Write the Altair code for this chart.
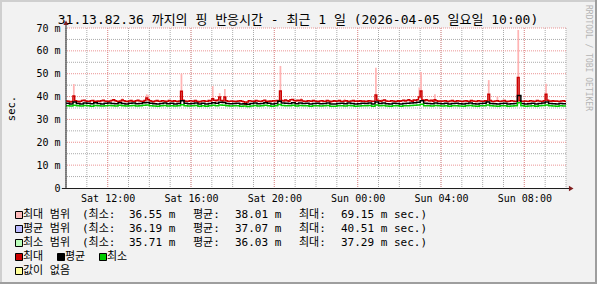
import json
import altair as alt
import pandas as pd

# ---------------- data ----------------
title_text = "31.13.82.36 까지의 핑 반응시간 - 최근 1 일 (2026-04-05 일요일 10:00)"
watermark_text = "RRDTOOL / TOBI OETIKER"
y_title = "sec."

x_tick_hours = [2, 6, 10, 14, 18, 22]
x_tick_labels = ["Sat 12:00", "Sat 16:00", "Sat 20:00", "Sun 00:00", "Sun 04:00", "Sun 08:00"]
y_tick_values = [0, 10, 20, 30, 40, 50, 60, 70]
y_tick_labels = ["0", "10 m", "20 m", "30 m", "40 m", "50 m", "60 m", "70 m"]

max_step_minutes = 5
max_line = [
    38.1, 38.0, 37.6, 37.8, 40.3, 38.2, 37.9, 37.7, 38.0, 38.3, 38.4, 38.1, 37.9, 38.0, 38.2, 38.3, 37.8, 37.9, 38.1, 38.0, 38.2, 38.4, 38.1, 38.0,
    37.8, 38.1, 38.3, 38.6, 38.2, 38.0, 37.9, 38.1, 38.5, 38.2, 38.0, 37.8, 38.1, 38.3, 38.0, 37.9, 38.2, 38.4, 38.1, 37.9, 38.0, 38.3, 39.4, 38.6,
    38.2, 38.0, 37.7, 38.1, 38.3, 38.0, 37.9, 38.2, 38.1, 37.8, 38.0, 38.3, 38.1, 37.9, 38.2, 38.0, 37.8, 38.1, 42.3, 38.4, 38.1, 38.0, 37.9, 38.2,
    38.1, 37.9, 38.3, 38.0, 37.6, 37.8, 38.1, 38.2, 38.0, 37.9, 38.3, 38.1, 39.0, 38.4, 38.2, 38.5, 39.8, 38.3, 38.1, 39.8, 38.2, 38.0, 37.9, 38.1,
    38.0, 37.8, 37.9, 38.1, 38.2, 38.0, 37.7, 36.6, 37.6, 38.2, 38.1, 37.9, 38.0, 38.3, 38.1, 37.9, 38.0, 38.2, 38.4, 38.0, 37.8, 38.1, 38.0, 38.2,
    38.1, 38.3, 38.2, 42.4, 38.3, 38.1, 38.5, 38.2, 38.0, 38.6, 38.7, 38.3, 38.1, 38.4, 38.2, 38.5, 38.1, 38.0, 37.9, 38.2, 38.1, 38.0, 38.3, 38.1,
    38.0, 37.8, 38.1, 38.2, 38.0, 37.9, 38.3, 38.1, 37.7, 37.9, 38.2, 38.0, 38.1, 38.3, 38.0, 37.8, 38.1, 38.2, 38.0, 37.9, 38.1, 38.3, 38.0, 38.1,
    37.9, 38.2, 38.0, 38.1, 37.8, 38.0, 38.2, 38.1, 37.9, 38.0, 40.7, 38.4, 38.2, 38.0, 38.3, 38.5, 38.1, 37.9, 38.0, 38.2, 38.1, 37.8, 38.0, 38.2,
    38.0, 38.2, 38.4, 38.1, 38.3, 38.6, 38.2, 38.0, 38.5, 38.3, 38.6, 39.8, 42.4, 38.5, 38.2, 38.6, 38.3, 38.1, 38.4, 38.0, 38.6, 38.2, 38.0, 38.1,
    37.9, 38.1, 38.2, 38.0, 37.8, 38.1, 38.3, 38.0, 37.9, 38.2, 38.1, 38.0, 37.8, 38.1, 38.2, 38.0, 37.9, 38.3, 38.1, 38.0, 37.8, 38.2, 38.1, 37.9,
    38.0, 38.2, 38.1, 41.0, 38.3, 38.0, 37.8, 38.1, 38.2, 38.0, 37.9, 38.1, 38.3, 38.0, 37.8, 38.0, 38.2, 38.1, 37.9, 38.0, 48.3, 38.2, 38.0, 37.9,
    38.1, 38.0, 37.8, 38.2, 38.1, 37.9, 38.0, 38.3, 38.1, 38.0, 37.9, 38.2, 41.0, 38.4, 38.1, 38.0, 38.2, 37.9, 38.1, 38.0, 37.8, 38.1, 38.2, 38.0,
]

avg_min_step_minutes = 10
avg_line = [
    37.1, 36.8, 37.6, 37.0, 36.7, 37.2, 37.1, 36.9, 37.3, 37.0, 36.8, 37.1,
    37.2, 37.0, 36.9, 37.3, 37.0, 36.8, 37.1, 37.2, 36.9, 37.0, 37.3, 37.4,
    37.1, 36.9, 36.7, 37.0, 37.2, 36.9, 37.1, 36.8, 37.0, 38.2, 37.1, 36.9,
    37.0, 37.2, 36.8, 37.1, 36.7, 37.0, 37.3, 37.1, 37.5, 37.4, 37.0, 36.9,
    37.0, 37.1, 36.8, 36.9, 36.6, 37.0, 37.2, 36.9, 37.0, 37.3, 37.1, 36.8,
    37.0, 38.0, 37.2, 37.1, 37.0, 37.3, 36.9, 37.2, 37.0, 37.1, 36.8, 37.0,
    37.1, 36.9, 37.0, 37.2, 36.8, 36.7, 37.0, 37.1, 36.9, 37.2, 37.0, 36.8,
    36.9, 37.1, 37.0, 37.2, 36.8, 37.6, 37.0, 37.2, 36.9, 36.8, 37.1, 37.0,
    36.8, 37.0, 37.1, 37.2, 37.3, 37.5, 38.2, 37.1, 37.0, 36.9, 37.2, 37.0,
    36.9, 37.1, 36.8, 37.0, 37.1, 36.9, 36.7, 37.0, 37.2, 36.9, 36.8, 37.0,
    37.1, 37.6, 37.0, 36.9, 36.8, 37.0, 37.1, 36.8, 36.9, 37.0, 40.5, 37.0,
    36.8, 36.9, 37.1, 36.8, 37.0, 37.2, 37.6, 37.0, 36.9, 36.8, 37.0, 36.9,
]
min_line = [
    36.0, 35.9, 36.2, 36.0, 35.9, 36.1, 36.0, 35.8, 36.1, 36.0, 35.9, 36.0,
    36.1, 36.0, 35.9, 36.2, 36.0, 35.9, 36.0, 36.1, 35.9, 36.0, 36.2, 36.3,
    36.0, 35.9, 35.8, 36.0, 36.1, 35.9, 36.0, 35.9, 36.0, 36.4, 36.0, 35.9,
    36.0, 36.1, 35.8, 36.0, 35.8, 36.0, 36.2, 36.0, 36.3, 36.2, 36.0, 35.9,
    36.0, 36.0, 35.8, 35.9, 35.7, 35.9, 36.1, 35.9, 36.0, 36.2, 36.0, 35.8,
    36.0, 36.5, 36.1, 36.0, 36.0, 36.2, 35.9, 36.1, 36.0, 36.0, 35.8, 36.0,
    36.0, 35.9, 36.0, 36.1, 35.8, 35.8, 36.0, 36.0, 35.9, 36.1, 36.0, 35.8,
    35.9, 36.0, 36.0, 36.1, 35.8, 36.3, 36.0, 36.1, 35.9, 35.8, 36.0, 36.0,
    35.8, 36.0, 36.0, 36.1, 36.2, 36.3, 36.6, 36.0, 36.0, 35.9, 36.1, 36.0,
    35.9, 36.0, 35.8, 36.0, 36.0, 35.9, 35.8, 36.0, 36.1, 35.9, 35.8, 36.0,
    36.0, 36.3, 36.0, 35.9, 35.8, 36.0, 36.0, 35.8, 35.9, 36.0, 37.3, 36.0,
    35.8, 35.9, 36.0, 35.8, 36.0, 36.1, 36.3, 36.0, 35.9, 35.8, 36.0, 35.9,
]

# upper edge of the "max range" band (5-minute slots where it rises above the max line)
peak_index = [4, 32, 46, 47, 66, 84, 88, 91, 123, 135, 160, 178, 203, 204, 212, 243, 248, 260, 276]
peak_top = [45.5, 39.2, 41.0, 40.6, 50.0, 44.6, 41.5, 43.3, 53.4, 39.3, 39.0, 52.6, 44.0, 50.7, 41.0, 47.2, 40.0, 69.15, 45.6]

range_names = ["최대 범위", "평균 범위", "최소 범위"]
range_min = [36.55, 36.19, 35.71]
range_avg = [38.01, 37.07, 36.03]
range_max = [69.15, 40.51, 37.29]
stat_labels = ["(최소:", "평균:", "최대:"]
line_names = ["최대", "평균", "최소"]
nodata_name = "값이 없음"

# ---------------- styles / layout ----------------
MONO = "DejaVu Sans Mono, Noto Sans CJK KR"
W, H = 500, 160
PL, PT, PR, PB = 66, 28, 31, 96
X_DOMAIN = [0, 24]
Y_DOMAIN = [0, 70]
BG = "#F2F2F2"
C_GRID = "#ABABAB"
C_MGRID = "#EB9595"
C_ARROW = "#801F1F"
C_AXIS = "#1F1F1F"
C_PEAK = "#FFB4B4"
C_MAX, C_AVG, C_MIN = "#CC0000", "#000000", "#00CC00"
RANGE_COLORS = ["#FFBBBB", "#BBBBFF", "#BBFFBB"]
LINE_COLORS = [C_MAX, C_AVG, C_MIN]
NODATA_COLOR = "#FFFF99"

LEG_ROW_Y = [215, 229, 243, 257, 271]
LEG_BOX_X = 15
LEG_NAME_X = 23
LEG_COL_X = [82, 129, 193, 235, 299, 341]
LEG_LINE_BOX_X = [15, 57, 99]

# page pixel -> data units (inverse of the linear scales), used to place the legend
def px_x(px):
    return X_DOMAIN[0] + (px - PL) / W * (X_DOMAIN[1] - X_DOMAIN[0])

def px_y(py):
    return Y_DOMAIN[1] - (py - PT) / H * (Y_DOMAIN[1] - Y_DOMAIN[0])

xscale = alt.Scale(domain=X_DOMAIN, nice=False, zero=False)
yscale = alt.Scale(domain=Y_DOMAIN, nice=False, zero=False)

x_label_expr = "{}[indexof({}, datum.value)]".format(json.dumps(x_tick_labels), json.dumps(x_tick_hours))
y_label_expr = "{}[indexof({}, datum.value)]".format(json.dumps(y_tick_labels), json.dumps(y_tick_values))

xaxis = alt.Axis(values=x_tick_hours, labelExpr=x_label_expr, title=" ", domain=False, ticks=False,
                 grid=False, labelPadding=5, labelFont=MONO, labelFontSize=10, labelColor="#000",
                 labelOverlap=False, labelFlush=False)
yaxis = alt.Axis(values=y_tick_values, labelExpr=y_label_expr, title=y_title, domain=False, ticks=False,
                 grid=False, labelPadding=6, labelFont=MONO, labelFontSize=10, labelColor="#000",
                 titleFont=MONO, titleFontSize=10.5, titleFontWeight="normal", titleColor="#000",
                 titleX=-55, titleY=80, titleAlign="center", titleBaseline="middle")

# ---------------- tables (every table uses columns h / v, plus h2 / v2) ----------------
def series_df(vals, step):
    return pd.DataFrame({
        "h": [i * step / 60 for i in range(len(vals) + 1)],
        "v": list(vals) + [vals[-1]],
    })

df_max = series_df(max_line, max_step_minutes)
df_avg = series_df(avg_line, avg_min_step_minutes)
df_min = series_df(min_line, avg_min_step_minutes)
df_peak = pd.DataFrame({
    "h": [i * max_step_minutes / 60 for i in peak_index],
    "h2": [(i + 1) * max_step_minutes / 60 for i in peak_index],
    "v": [max_line[i] for i in peak_index],
    "v2": peak_top,
})

df_gx_minor = pd.DataFrame({"h": list(range(0, 25))})
df_gx_major = pd.DataFrame({"h": x_tick_hours})
df_gy_minor = pd.DataFrame({"v": list(range(5, 70, 10))})
df_gy_major = pd.DataFrame({"v": y_tick_values[1:]})

txt_rows, box_rows = [], []

def add_box(bx, cy, col):
    box_rows.append({"h": px_x(bx + 0.5), "h2": px_x(bx + 7.5),
                     "v": px_y(cy - 3.5), "v2": px_y(cy + 3.5), "c": col})

for i, name in enumerate(range_names):
    cy = LEG_ROW_Y[i]
    add_box(LEG_BOX_X, cy, RANGE_COLORS[i])
    segs = [name, stat_labels[0], f"{range_min[i]:.2f} m", stat_labels[1], f"{range_avg[i]:.2f} m",
            stat_labels[2], f"{range_max[i]:.2f} m sec.)"]
    for sx, s in zip([LEG_NAME_X] + LEG_COL_X, segs):
        txt_rows.append({"h": px_x(sx), "v": px_y(cy), "t": s})
cy = LEG_ROW_Y[3]
for bx, name, col in zip(LEG_LINE_BOX_X, line_names, LINE_COLORS):
    add_box(bx, cy, col)
    txt_rows.append({"h": px_x(bx + 8), "v": px_y(cy), "t": name})
cy = LEG_ROW_Y[4]
add_box(LEG_BOX_X, cy, NODATA_COLOR)
txt_rows.append({"h": px_x(LEG_NAME_X), "v": px_y(cy), "t": nodata_name})
df_txt = pd.DataFrame(txt_rows)
df_box = pd.DataFrame(box_rows)
df_txt_extra = pd.DataFrame({
    "h": [px_x(298), px_x(588)],
    "v": [px_y(24), px_y(5)],
})

df_yaxis = pd.DataFrame({"h": [0], "v": [0], "v2": [71.5]})
df_xaxis = pd.DataFrame({"h": [-0.2], "h2": [24.2], "v": [0]})
df_up = pd.DataFrame({"h": [0], "v": [72.3]})
df_right = pd.DataFrame({"h": [24.25], "v": [0]})
one = pd.DataFrame({"a": [0]})

# ---------------- layers ----------------
XE = alt.X("h:Q", scale=xscale, axis=xaxis)
YE = alt.Y("v:Q", scale=yscale, axis=yaxis)

dash = [1, 1]
gx_minor = alt.Chart(df_gx_minor).mark_rule(color=C_GRID, strokeDash=dash, strokeWidth=1).encode(x=XE)
gx_major = alt.Chart(df_gx_major).mark_rule(color=C_MGRID, strokeDash=dash, strokeWidth=1).encode(x=XE)
gy_minor = alt.Chart(df_gy_minor).mark_rule(color=C_GRID, strokeDash=dash, strokeWidth=1).encode(y=YE)
gy_major = alt.Chart(df_gy_major).mark_rule(color=C_MGRID, strokeDash=dash, strokeWidth=1).encode(y=YE)

peaks = alt.Chart(df_peak).mark_rect(color=C_PEAK).encode(x=XE, x2="h2:Q", y=YE, y2="v2:Q")

line_max = alt.Chart(df_max).mark_line(interpolate="step-after", color=C_MAX, strokeWidth=1.5).encode(x=XE, y=YE)
line_avg = alt.Chart(df_avg).mark_line(interpolate="step-after", color=C_AVG, strokeWidth=1.5).encode(x=XE, y=YE)
line_min = alt.Chart(df_min).mark_line(interpolate="step-after", color=C_MIN, strokeWidth=1.5).encode(x=XE, y=YE)

yaxis_line = alt.Chart(df_yaxis).mark_rule(color=C_AXIS, strokeWidth=1).encode(x=XE, y=YE, y2="v2:Q")
xaxis_line = alt.Chart(df_xaxis).mark_rule(color=C_AXIS, strokeWidth=1, yOffset=0.5).encode(x=XE, x2="h2:Q", y=YE)
arrow_up = alt.Chart(df_up).mark_point(shape="triangle-up", filled=True, size=28, color=C_ARROW, opacity=1).encode(
    x=XE, y=YE)
arrow_right = alt.Chart(df_right).mark_point(shape="triangle-right", filled=True, size=28, color=C_ARROW,
                                             opacity=1, yOffset=0.5).encode(x=XE, y=YE)

leg_boxes = alt.Chart(df_box).mark_rect(stroke="#000", strokeWidth=1).encode(
    x=XE, x2="h2:Q", y=YE, y2="v2:Q", fill=alt.Fill("c:N", scale=None))
leg_text = alt.Chart(df_txt).mark_text(align="left", baseline="middle", font=MONO, fontSize=11, color="#000").encode(
    x=XE, y=YE, text="t:N")

title_mark = alt.Chart(df_txt_extra.iloc[[0]]).mark_text(
    align="center", baseline="alphabetic", font=MONO, fontSize=13, color="#000", text=title_text).encode(x=XE, y=YE)
watermark = alt.Chart(df_txt_extra.iloc[[1]]).mark_text(
    angle=90, align="left", baseline="middle", font=MONO, fontSize=8, color="#B4B4B4",
    text=watermark_text).encode(x=XE, y=YE)

frame_total_w = W + PL + PR
frame_total_h = H + PT + PB
frame_top = alt.Chart(one).mark_rule(color="#CFCFCF", strokeWidth=2).encode(
    x=alt.value(-PL), x2=alt.value(W + PR), y=alt.value(1 - PT))
frame_left = alt.Chart(one).mark_rule(color="#CFCFCF", strokeWidth=2).encode(
    x=alt.value(1 - PL), y=alt.value(-PT), y2=alt.value(H + PB))
frame_bottom = alt.Chart(one).mark_rule(color="#9E9E9E", strokeWidth=2).encode(
    x=alt.value(-PL), x2=alt.value(W + PR), y=alt.value(frame_total_h - 1 - PT))
frame_right = alt.Chart(one).mark_rule(color="#9E9E9E", strokeWidth=2).encode(
    x=alt.value(frame_total_w - 1 - PL), y=alt.value(-PT), y2=alt.value(H + PB))

chart = alt.layer(
    gx_minor, gy_minor, gx_major, gy_major, peaks,
    line_max, line_avg, line_min,
    yaxis_line, xaxis_line, arrow_up, arrow_right,
    leg_boxes, leg_text, title_mark, watermark,
    frame_top, frame_left, frame_bottom, frame_right,
).properties(
    width=W, height=H,
    autosize=alt.AutoSizeParams(type="none"),
    padding={"left": PL, "top": PT, "right": PR, "bottom": PB},
).configure(background=BG).configure_view(fill="white", strokeWidth=0)

chart.save("out.html", embed_options={"renderer": "svg", "actions": False})
